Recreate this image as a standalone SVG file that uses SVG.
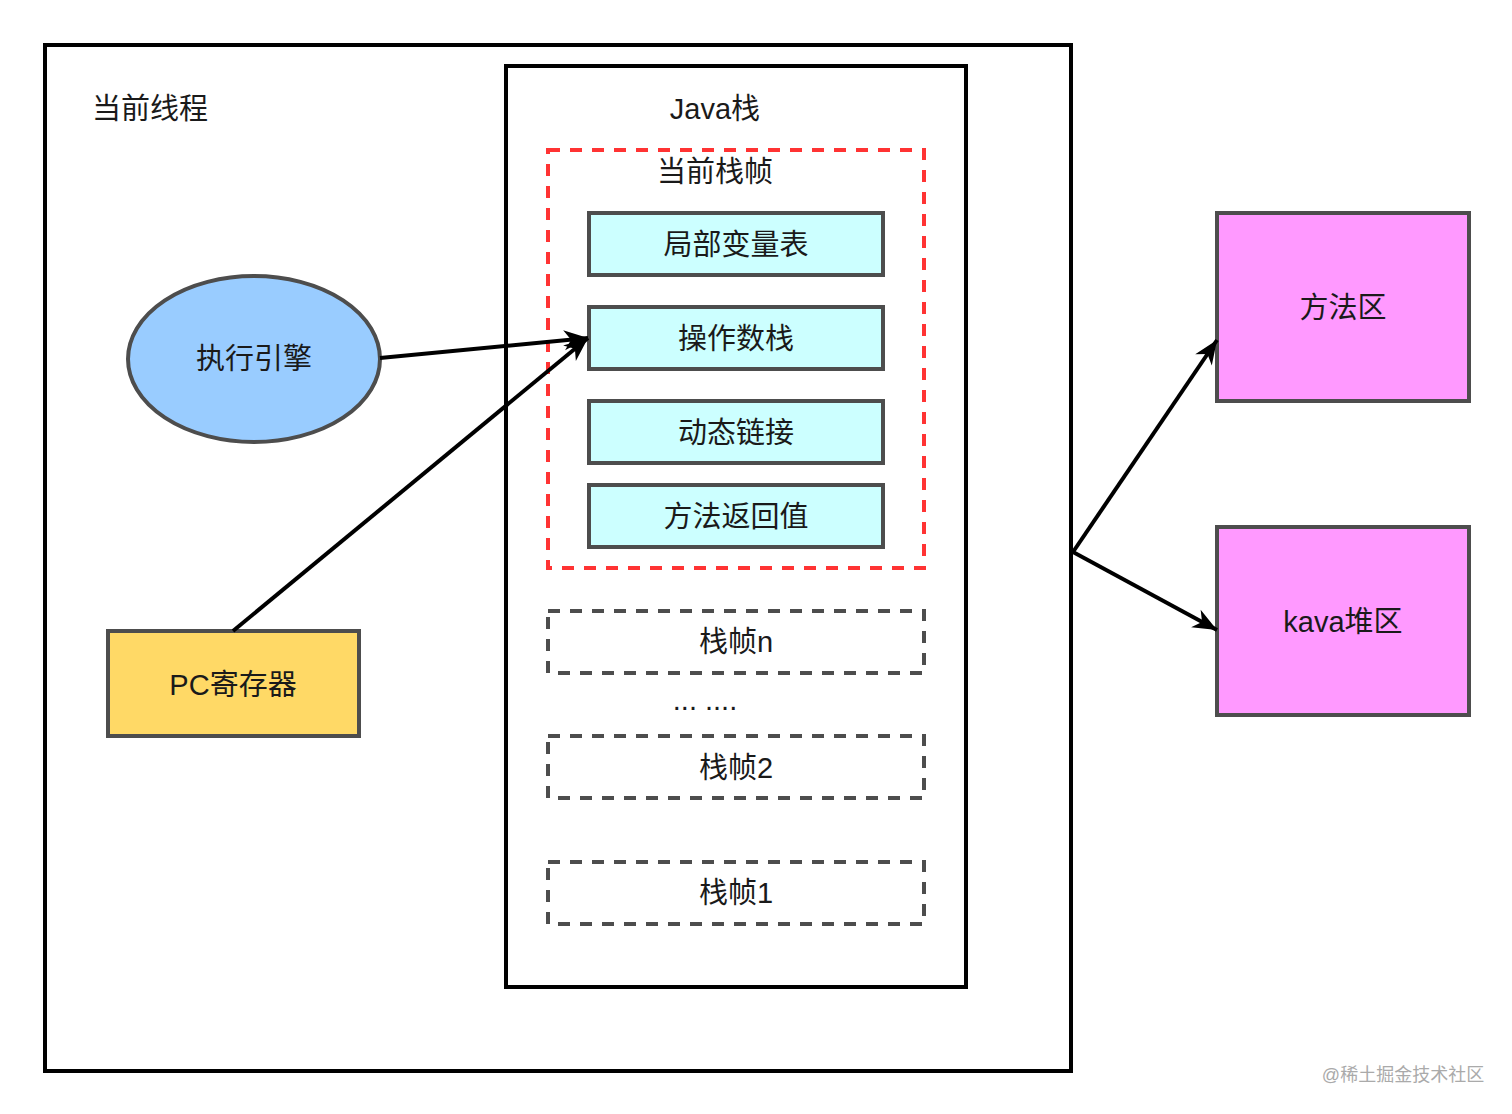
<svg xmlns="http://www.w3.org/2000/svg" width="1512" height="1114" viewBox="0 0 1512 1114">
<style>
text{font-family:"Liberation Sans","Noto Sans CJK SC",sans-serif;font-size:29px;fill:#1a1a1a;text-anchor:middle;dominant-baseline:central}
.cy{fill:#ccffff;stroke:#4d4d4d;stroke-width:4}
.pk{fill:#ff99ff;stroke:#4d4d4d;stroke-width:4}
.dg{fill:none;stroke:#4d4d4d;stroke-width:4;stroke-dasharray:12 10}
.ln{stroke:#000;stroke-width:4;fill:none}
</style>
<defs>
<marker id="b" viewBox="-26 -12 28 24" refX="0" refY="0" markerWidth="28" markerHeight="24" markerUnits="userSpaceOnUse" orient="auto"><path d="M0,0 L-24,-10 L-17,0 L-24,10 Z" fill="#000"/></marker></defs>
<g id="thread"><rect x="45" y="45" width="1026" height="1026" fill="#fff" stroke="#000" stroke-width="4"/><text x="150" y="109">当前线程</text></g>
<g id="javastack"><rect x="506" y="66" width="460" height="921" fill="#fff" stroke="#000" stroke-width="4"/><text x="715" y="109">Java栈</text></g>
<g id="curframe"><rect x="548" y="150" width="376" height="418" fill="none" stroke="#ff3333" stroke-width="4" stroke-dasharray="12 10"/><text x="715" y="172">当前栈帧</text></g>
<g id="n1"><rect class="cy" x="589" y="213" width="294" height="62"/><text x="736" y="245">局部变量表</text></g>
<g id="n2"><rect class="cy" x="589" y="307" width="294" height="62"/><text x="736" y="339">操作数栈</text></g>
<g id="n3"><rect class="cy" x="589" y="401" width="294" height="62"/><text x="736" y="433">动态链接</text></g>
<g id="n4"><rect class="cy" x="589" y="485" width="294" height="62"/><text x="736" y="517">方法返回值</text></g>
<g id="fn"><rect class="dg" x="548" y="611" width="376" height="62"/><text x="736" y="642">栈帧n</text></g>
<text x="705" y="700">... ....</text>
<g id="f2"><rect class="dg" x="548" y="736" width="376" height="62"/><text x="736" y="768">栈帧2</text></g>
<g id="f1"><rect class="dg" x="548" y="862" width="376" height="62"/><text x="736" y="893">栈帧1</text></g>
<g id="engine"><ellipse cx="254" cy="359" rx="126" ry="83" fill="#99ccff" stroke="#4d4d4d" stroke-width="4"/><text x="254" y="359">执行引擎</text></g>
<g id="pc"><rect x="108" y="631" width="251" height="105" fill="#ffd966" stroke="#4d4d4d" stroke-width="4"/><text x="233" y="685">PC寄存器</text></g>
<g id="method"><rect class="pk" x="1217" y="213" width="252" height="188"/><text x="1343" y="308">方法区</text></g>
<g id="heap"><rect class="pk" x="1217" y="527" width="252" height="188"/><text x="1343" y="622">kava堆区</text></g>
<g id="connectors">
<path class="ln" d="M380,358 L588,338" marker-end="url(#b)"/>
<path class="ln" d="M233,631 L588,338" marker-end="url(#b)"/>
<path class="ln" d="M1073,552 L1217,340" marker-end="url(#b)"/>
<path class="ln" d="M1073,552 L1217,630" marker-end="url(#b)"/>
</g>
<text x="1403" y="1075" style="font-size:18px;fill:#aaa">@稀土掘金技术社区</text>
</svg>
